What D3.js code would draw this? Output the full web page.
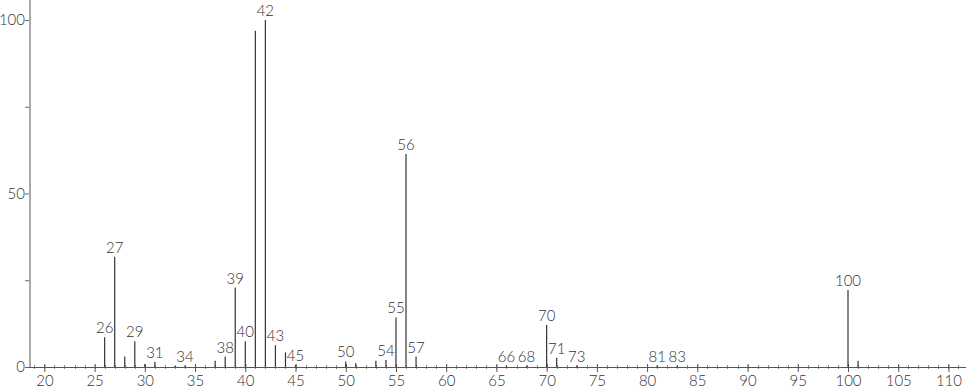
<!DOCTYPE html>
<html>
<head>
<meta charset="utf-8">
<script src="https://cdn.jsdelivr.net/npm/d3@7"></script>
<style>
  body { margin: 0; background: #fff; }
  text { font-family: "Lato", "DejaVu Sans", sans-serif; font-weight: 300; }
</style>
</head>
<body>
<div id="chart"></div>
<script>
// peaks: m/z and relative intensity
var mz = [26, 27, 28, 29, 30, 31, 33, 34, 37, 38, 39, 40, 41, 42, 43, 44, 45,
          50, 51, 53, 54, 55, 56, 57, 66, 68, 70, 71, 73, 81, 83, 100, 101];
var intensity = [8.6, 31.8, 3.0, 7.4, 0.8, 1.5, 0.3, 0.4, 1.8, 3.0, 22.9, 7.4, 96.9, 100, 6.3, 4.2, 0.5,
                 1.6, 1.1, 1.8, 2.0, 14.3, 61.4, 3.0, 0.4, 0.4, 12.1, 2.7, 0.4, 0.4, 0.4, 22.2, 1.8];
var labelled = [26, 27, 29, 31, 34, 38, 39, 40, 42, 43, 45, 50, 54, 55, 56, 57,
                66, 68, 70, 71, 73, 81, 83, 100];
var xTicks = [20, 25, 30, 35, 40, 45, 50, 55, 60, 65, 70, 75, 80, 85, 90, 95, 100, 105, 110];
var yTicks = [0, 25, 50, 75, 100];
var yLabels = [0, 50, 100];

var svgWidth = 966;
var svgHeight = 389;

var data = mz.map(function(m, i) {
    return { mz: m, v: intensity[i] };
});

var svg = d3.select("#chart")
    .append("svg")
    .attr("width", svgWidth)
    .attr("height", svgHeight);

var x = d3.scaleLinear()
    .domain([27, 100])
    .range([114.7, 848]);

var y = d3.scaleLinear()
    .domain([0, 100])
    .range([367, 20]);

var axisY = 367;

// minor ticks on x axis, every unit
var minor = d3.range(19, 112);
svg.append("g")
    .selectAll("line")
    .data(minor)
    .enter()
    .append("line")
    .attr("x1", d => Math.round(x(d)) + 0.5)
    .attr("x2", d => Math.round(x(d)) + 0.5)
    .attr("y1", axisY - 2)
    .attr("y2", axisY + 2)
    .attr("stroke", "#888")
    .attr("stroke-width", 1);

// x axis
var bottomAxis = d3.axisBottom(x)
    .tickValues(xTicks)
    .tickSize(5)
    .tickFormat(d3.format("d"));

var gx = svg.append("g")
    .attr("transform", "translate(0," + axisY + ")")
    .call(bottomAxis);
gx.select(".domain").remove();
gx.selectAll(".tick line").attr("stroke", "#555").attr("y1", -3);
gx.selectAll(".tick text")
    .attr("y", 8)
    .style("font-size", "15px")
    .attr("fill", "#333");

svg.append("line")
    .attr("x1", 29)
    .attr("x2", svgWidth)
    .attr("y1", axisY + 0.5)
    .attr("y2", axisY + 0.5)
    .attr("stroke", "#555");

// y axis
var leftAxis = d3.axisLeft(y)
    .tickValues(yTicks)
    .tickSize(4)
    .tickFormat(d => yLabels.indexOf(d) >= 0 ? d : "");

var gy = svg.append("g")
    .attr("transform", "translate(29,0)")
    .call(leftAxis);
gy.select(".domain").remove();
gy.selectAll(".tick line").attr("stroke", "#666");
gy.selectAll(".tick text")
    .attr("x", -4)
    .style("font-size", "15px")
    .attr("fill", "#333");

svg.append("line")
    .attr("x1", 30)
    .attr("x2", 30)
    .attr("y1", 0)
    .attr("y2", axisY)
    .attr("stroke", "#aaa")
    .attr("stroke-width", 2);

// peaks
svg.append("g")
    .selectAll("line")
    .data(data)
    .enter()
    .append("line")
    .attr("x1", d => x(d.mz))
    .attr("x2", d => x(d.mz))
    .attr("y1", axisY)
    .attr("y2", d => y(d.v))
    .attr("stroke", "#333")
    .attr("stroke-width", 1.2);

// peak labels
svg.append("g")
    .selectAll("text")
    .data(data.filter(d => labelled.indexOf(d.mz) >= 0))
    .enter()
    .append("text")
    .attr("x", d => x(d.mz))
    .attr("y", d => y(d.v) - 4)
    .attr("text-anchor", "middle")
    .style("font-size", "15px")
    .attr("fill", "#333")
    .text(d => d.mz);
</script>
</body>
</html>
